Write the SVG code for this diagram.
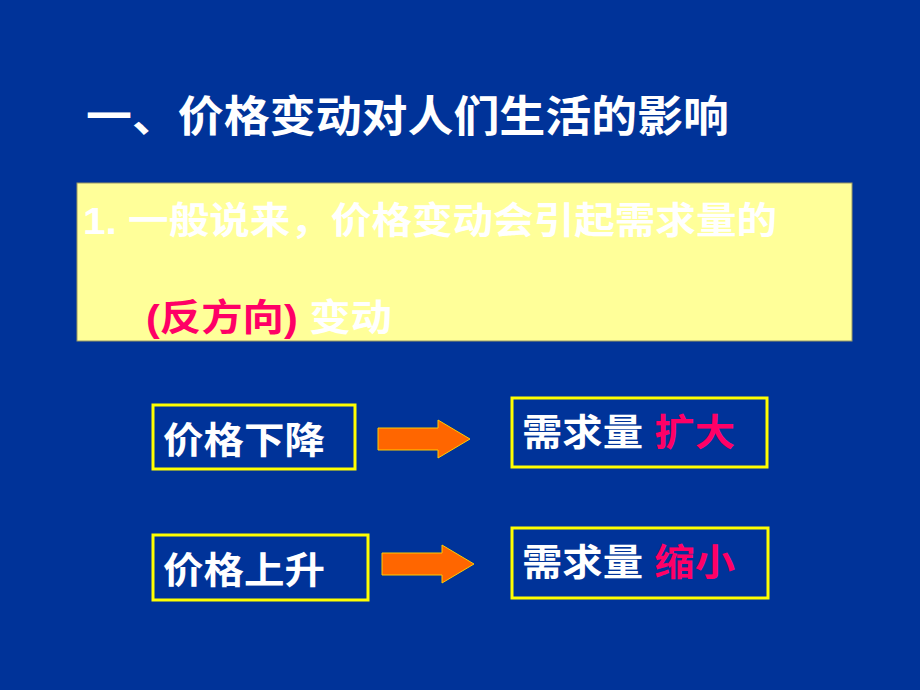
<svg xmlns="http://www.w3.org/2000/svg" width="920" height="690" viewBox="0 0 920 690">
<style>
text{font-family:"Liberation Sans","Noto Sans CJK SC",sans-serif;font-weight:bold;}
.w{fill:#FFFFFF;}
.r{fill:#FF0066;}
.box{fill:none;stroke:#FFFF00;stroke-width:3;}
.arrow{fill:#FF6600;stroke:#FFCC00;stroke-width:1;}
</style>
<defs>
<path id="arr" d="M0,8 H60 V0 L92,19 L60,38 V30 H0 Z"/>
</defs>
<rect x="0" y="0" width="920" height="690" fill="#003399"/>
<g id="title">
<text x="86" y="132" font-size="43" class="w" textLength="643" lengthAdjust="spacingAndGlyphs">一、价格变动对人们生活的影响</text>
</g>
<g id="statement">
<rect x="77" y="183" width="775" height="158" fill="#FFFF99" stroke="#999966" stroke-width="1"/>
<text x="83" y="234" font-size="37" class="w" textLength="694" lengthAdjust="spacingAndGlyphs">1. 一般说来，价格变动会引起需求量的</text>
<text x="146" y="331" font-size="37" textLength="246" lengthAdjust="spacingAndGlyphs"><tspan class="r">(反方向)</tspan><tspan class="w"> 变动</tspan></text>
</g>
<g id="price-down">
<rect class="box" x="153" y="405" width="202" height="64"/>
<text x="163" y="454" font-size="37" class="w" textLength="162" lengthAdjust="spacingAndGlyphs">价格下降</text>
</g>
<g id="demand-up">
<rect class="box" x="512" y="398" width="255" height="69"/>
<text x="522" y="446" font-size="37" textLength="213" lengthAdjust="spacingAndGlyphs"><tspan class="w">需求量 </tspan><tspan class="r">扩大</tspan></text>
</g>
<g id="price-up">
<rect class="box" x="153" y="535" width="215" height="65"/>
<text x="163" y="584" font-size="37" class="w" textLength="162" lengthAdjust="spacingAndGlyphs">价格上升</text>
</g>
<g id="demand-down">
<rect class="box" x="512" y="528" width="256" height="70"/>
<text x="522" y="576" font-size="37" textLength="213" lengthAdjust="spacingAndGlyphs"><tspan class="w">需求量 </tspan><tspan class="r">缩小</tspan></text>
</g>
<g id="connectors">
<use href="#arr" class="arrow" x="378" y="420"/>
<use href="#arr" class="arrow" x="382" y="545"/>
</g>
</svg>
